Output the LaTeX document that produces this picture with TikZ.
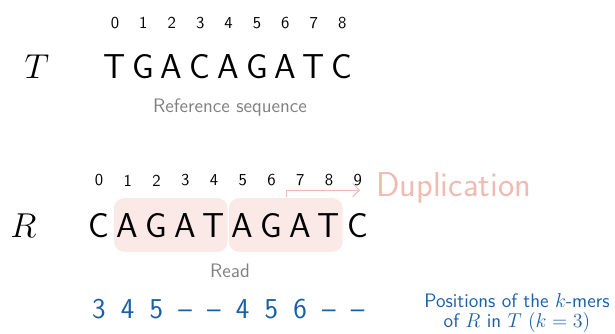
\documentclass[tikz,border=0pt]{standalone}
\usetikzlibrary{arrows.meta,fit,backgrounds}
\definecolor{kmerblue}{RGB}{26,96,168}
\definecolor{duppink}{RGB}{241,186,176}
\definecolor{dupfill}{RGB}{251,233,231}
\definecolor{notegray}{RGB}{128,128,128}
\tikzset{
    letter/.style={anchor=base, inner sep=0pt, minimum width=17.25pt, font=\sffamily\huge, text height=14.4pt, text depth=0pt},
    seqname/.style={anchor=base, inner sep=0pt, font=\huge},
    index/.style={inner sep=0pt, font=\sffamily\normalsize},
    kpos/.style={anchor=base, inner sep=0pt, font=\sffamily\LARGE, text=kmerblue},
    note/.style={inner sep=0pt, font=\sffamily\fontsize{11.7}{12}\selectfont, text=notegray},
    dupbox/.style={rounded corners=6pt, fill=dupfill, inner xsep=-0.6pt, inner ysep=8.7pt},
    duparrow/.style={draw=duppink, line width=0.6pt, -{Straight Barb[length=4pt,width=8pt]}},
}
\begin{document}
\begin{tikzpicture}[x=0.6pt,y=-0.6pt]
        \useasboundingbox (0,0) rectangle (615,333);
        % reference
        \node[seqname] (Tname) at (37,78) {$T$};
        \foreach[count=\i from 0] \b in {T,G,A,C,A,G,A,T,C} {
            \node[letter] (t\i) at ({115+28.4*\i}, 78) {\b};
            \node[index] (ti\i) at ({115+28.4*\i}, 23) {\i};
        }
        \node[note] (tnote) at (230,108) {Reference sequence};

        % read
        \node[seqname] (Rname) at (23.5,237) {$R$};
        \foreach[count=\i from 0] \b/\p in {C/3,A/4,G/5,A/\textendash,T/\textendash,A/4,G/5,A/6,T/\textendash,C/\textendash} {
            \node[letter] (r\i) at ({99+28.75*\i}, 237) {\b};
            \node[index] (ri\i) at ({99+28.75*\i}, 180.5) {\i};
            \node[kpos] (p\i) at ({99+28.75*\i}, 318) {\p};
        }
        \begin{scope}[on background layer]
            \node[dupbox, fit=(r1)(r4)] (box1) {};
            \node[dupbox, fit=(r5)(r8)] (box2) {};
        \end{scope}
        \node[note] (rnote) at (230,271) {Read};

        \coordinate (dupstart) at (287,197);
        \coordinate (dupend) at (360,190);
        \draw[duparrow] (dupstart) |- (dupend);
        \node[anchor=west, inner sep=0pt, font=\sffamily\huge, text=duppink] (dup) at (376,188) {Duplication};

        \node[align=center, inner sep=0pt, font=\sffamily\fontsize{11.7}{12}\selectfont, text=kmerblue] (knote) at (517,313) {Positions of the $k$-mers\\of $R$ in $T$ $(k=3)$};
    \end{tikzpicture}
\end{document}
